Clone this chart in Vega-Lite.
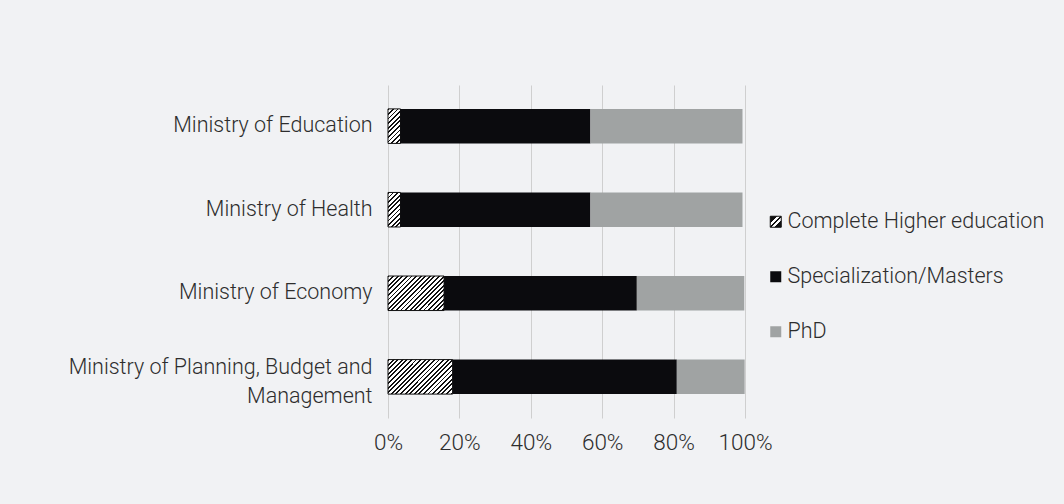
{
  "$schema": "https://vega.github.io/schema/vega-lite/v6.json",
  "width": 357,
  "height": 333,
  "autosize": {"type": "none"},
  "padding": {"left": 388, "top": 85, "right": 319, "bottom": 86},
  "background": "#f1f2f4",
  "config": {
    "view": {"stroke": null},
    "font": "Roboto, Liberation Sans, sans-serif"
  },
  "data": {
    "values": [
      {"ministry": "Ministry of Education", "level": "Complete Higher education", "value": 0.035},
      {"ministry": "Ministry of Education", "level": "Specialization/Masters", "value": 0.532},
      {"ministry": "Ministry of Education", "level": "PhD", "value": 0.426},
      {"ministry": "Ministry of Health", "level": "Complete Higher education", "value": 0.035},
      {"ministry": "Ministry of Health", "level": "Specialization/Masters", "value": 0.532},
      {"ministry": "Ministry of Health", "level": "PhD", "value": 0.426},
      {"ministry": "Ministry of Economy", "level": "Complete Higher education", "value": 0.157},
      {"ministry": "Ministry of Economy", "level": "Specialization/Masters", "value": 0.540},
      {"ministry": "Ministry of Economy", "level": "PhD", "value": 0.301},
      {"ministry": "Ministry of Planning, Budget and Management", "level": "Complete Higher education", "value": 0.181},
      {"ministry": "Ministry of Planning, Budget and Management", "level": "Specialization/Masters", "value": 0.628},
      {"ministry": "Ministry of Planning, Budget and Management", "level": "PhD", "value": 0.190}
    ]
  },
  "transform": [
    {"calculate": "indexof(['Complete Higher education','Specialization/Masters','PhD'], datum.level)", "as": "rank"}
  ],
  "mark": {"type": "bar", "strokeWidth": 1},
  "encoding": {
    "y": {
      "field": "ministry", "type": "nominal", "sort": null, "title": null,
      "scale": {"paddingInner": 0.587, "paddingOuter": 0.286},
      "axis": {
        "domain": false, "ticks": false, "labelPadding": 16, "labelFontSize": 21.5, "labelFontWeight": 300,
        "labelColor": "#2d2d2d", "labelLimit": 400, "labelLineHeight": 29,
        "labelExpr": "datum.value === 'Ministry of Planning, Budget and Management' ? ['Ministry of Planning, Budget and', 'Management'] : datum.value",
        "labelOffset": {"condition": {"test": "datum.value === 'Ministry of Planning, Budget and Management'", "value": -9}, "value": 0}
      }
    },
    "x": {
      "field": "value", "type": "quantitative", "stack": "zero", "title": null,
      "scale": {"domain": [0, 1], "nice": false},
      "axis": {
        "format": ".0%", "values": [0, 0.2, 0.4, 0.6, 0.8, 1], "domain": false, "ticks": false,
        "grid": true, "gridColor": "#cfcfcf", "gridWidth": 1, "labelPadding": 13,
        "labelFontSize": 22.5, "labelFontWeight": 300, "labelColor": "#2d2d2d", "labelFlush": false
      }
    },
    "order": {"field": "rank", "type": "quantitative"},
    "stroke": {
      "field": "level", "type": "nominal",
      "scale": {"domain": ["Complete Higher education", "Specialization/Masters", "PhD"], "range": ["#111111", "transparent", "transparent"]},
      "legend": {
        "title": null, "orient": "none", "legendX": 377, "legendY": 126,
        "symbolType": "square", "symbolSize": 121, "symbolStrokeWidth": 1,
        "labelFontSize": 21.5, "labelFontWeight": 300, "labelColor": "#2d2d2d", "labelLimit": 400,
        "labelOffset": 1, "rowPadding": 32
      }
    },
    "fill": {
      "condition": [
        {"test": "datum.level === 'Complete Higher education' && datum.ministry === 'Ministry of Economy'",
         "value": {"gradient": "linear", "x1": 0, "y1": 0, "x2": 1.4874, "y2": 0.9147, "stops": [
{"offset":0,"color":"#111"},{"offset":0.016,"color":"#111"},{"offset":0.016,"color":"#fff"},{"offset":0.04,"color":"#fff"},
{"offset":0.04,"color":"#111"},{"offset":0.056,"color":"#111"},{"offset":0.056,"color":"#fff"},{"offset":0.08,"color":"#fff"},
{"offset":0.08,"color":"#111"},{"offset":0.096,"color":"#111"},{"offset":0.096,"color":"#fff"},{"offset":0.12,"color":"#fff"},
{"offset":0.12,"color":"#111"},{"offset":0.136,"color":"#111"},{"offset":0.136,"color":"#fff"},{"offset":0.16,"color":"#fff"},
{"offset":0.16,"color":"#111"},{"offset":0.176,"color":"#111"},{"offset":0.176,"color":"#fff"},{"offset":0.2,"color":"#fff"},
{"offset":0.2,"color":"#111"},{"offset":0.216,"color":"#111"},{"offset":0.216,"color":"#fff"},{"offset":0.24,"color":"#fff"},
{"offset":0.24,"color":"#111"},{"offset":0.256,"color":"#111"},{"offset":0.256,"color":"#fff"},{"offset":0.28,"color":"#fff"},
{"offset":0.28,"color":"#111"},{"offset":0.296,"color":"#111"},{"offset":0.296,"color":"#fff"},{"offset":0.32,"color":"#fff"},
{"offset":0.32,"color":"#111"},{"offset":0.336,"color":"#111"},{"offset":0.336,"color":"#fff"},{"offset":0.36,"color":"#fff"},
{"offset":0.36,"color":"#111"},{"offset":0.376,"color":"#111"},{"offset":0.376,"color":"#fff"},{"offset":0.4,"color":"#fff"},
{"offset":0.4,"color":"#111"},{"offset":0.416,"color":"#111"},{"offset":0.416,"color":"#fff"},{"offset":0.44,"color":"#fff"},
{"offset":0.44,"color":"#111"},{"offset":0.456,"color":"#111"},{"offset":0.456,"color":"#fff"},{"offset":0.48,"color":"#fff"},
{"offset":0.48,"color":"#111"},{"offset":0.496,"color":"#111"},{"offset":0.496,"color":"#fff"},{"offset":0.52,"color":"#fff"},
{"offset":0.52,"color":"#111"},{"offset":0.536,"color":"#111"},{"offset":0.536,"color":"#fff"},{"offset":0.56,"color":"#fff"},
{"offset":0.56,"color":"#111"},{"offset":0.576,"color":"#111"},{"offset":0.576,"color":"#fff"},{"offset":0.6,"color":"#fff"},
{"offset":0.6,"color":"#111"},{"offset":0.616,"color":"#111"},{"offset":0.616,"color":"#fff"},{"offset":0.64,"color":"#fff"},
{"offset":0.64,"color":"#111"},{"offset":0.656,"color":"#111"},{"offset":0.656,"color":"#fff"},{"offset":0.68,"color":"#fff"},
{"offset":0.68,"color":"#111"},{"offset":0.696,"color":"#111"},{"offset":0.696,"color":"#fff"},{"offset":0.72,"color":"#fff"},
{"offset":0.72,"color":"#111"},{"offset":0.736,"color":"#111"},{"offset":0.736,"color":"#fff"},{"offset":0.76,"color":"#fff"},
{"offset":0.76,"color":"#111"},{"offset":0.776,"color":"#111"},{"offset":0.776,"color":"#fff"},{"offset":0.8,"color":"#fff"},
{"offset":0.8,"color":"#111"},{"offset":0.816,"color":"#111"},{"offset":0.816,"color":"#fff"},{"offset":0.84,"color":"#fff"},
{"offset":0.84,"color":"#111"},{"offset":0.856,"color":"#111"},{"offset":0.856,"color":"#fff"},{"offset":0.88,"color":"#fff"}
         ]}},
        {"test": "datum.level === 'Complete Higher education' && datum.ministry === 'Ministry of Planning, Budget and Management'",
         "value": {"gradient": "linear", "x1": 0, "y1": 0, "x2": 1.384, "y2": 0.738, "stops": [
{"offset":0,"color":"#111"},{"offset":0.016,"color":"#111"},{"offset":0.016,"color":"#fff"},{"offset":0.04,"color":"#fff"},
{"offset":0.04,"color":"#111"},{"offset":0.056,"color":"#111"},{"offset":0.056,"color":"#fff"},{"offset":0.08,"color":"#fff"},
{"offset":0.08,"color":"#111"},{"offset":0.096,"color":"#111"},{"offset":0.096,"color":"#fff"},{"offset":0.12,"color":"#fff"},
{"offset":0.12,"color":"#111"},{"offset":0.136,"color":"#111"},{"offset":0.136,"color":"#fff"},{"offset":0.16,"color":"#fff"},
{"offset":0.16,"color":"#111"},{"offset":0.176,"color":"#111"},{"offset":0.176,"color":"#fff"},{"offset":0.2,"color":"#fff"},
{"offset":0.2,"color":"#111"},{"offset":0.216,"color":"#111"},{"offset":0.216,"color":"#fff"},{"offset":0.24,"color":"#fff"},
{"offset":0.24,"color":"#111"},{"offset":0.256,"color":"#111"},{"offset":0.256,"color":"#fff"},{"offset":0.28,"color":"#fff"},
{"offset":0.28,"color":"#111"},{"offset":0.296,"color":"#111"},{"offset":0.296,"color":"#fff"},{"offset":0.32,"color":"#fff"},
{"offset":0.32,"color":"#111"},{"offset":0.336,"color":"#111"},{"offset":0.336,"color":"#fff"},{"offset":0.36,"color":"#fff"},
{"offset":0.36,"color":"#111"},{"offset":0.376,"color":"#111"},{"offset":0.376,"color":"#fff"},{"offset":0.4,"color":"#fff"},
{"offset":0.4,"color":"#111"},{"offset":0.416,"color":"#111"},{"offset":0.416,"color":"#fff"},{"offset":0.44,"color":"#fff"},
{"offset":0.44,"color":"#111"},{"offset":0.456,"color":"#111"},{"offset":0.456,"color":"#fff"},{"offset":0.48,"color":"#fff"},
{"offset":0.48,"color":"#111"},{"offset":0.496,"color":"#111"},{"offset":0.496,"color":"#fff"},{"offset":0.52,"color":"#fff"},
{"offset":0.52,"color":"#111"},{"offset":0.536,"color":"#111"},{"offset":0.536,"color":"#fff"},{"offset":0.56,"color":"#fff"},
{"offset":0.56,"color":"#111"},{"offset":0.576,"color":"#111"},{"offset":0.576,"color":"#fff"},{"offset":0.6,"color":"#fff"},
{"offset":0.6,"color":"#111"},{"offset":0.616,"color":"#111"},{"offset":0.616,"color":"#fff"},{"offset":0.64,"color":"#fff"},
{"offset":0.64,"color":"#111"},{"offset":0.656,"color":"#111"},{"offset":0.656,"color":"#fff"},{"offset":0.68,"color":"#fff"},
{"offset":0.68,"color":"#111"},{"offset":0.696,"color":"#111"},{"offset":0.696,"color":"#fff"},{"offset":0.72,"color":"#fff"},
{"offset":0.72,"color":"#111"},{"offset":0.736,"color":"#111"},{"offset":0.736,"color":"#fff"},{"offset":0.76,"color":"#fff"},
{"offset":0.76,"color":"#111"},{"offset":0.776,"color":"#111"},{"offset":0.776,"color":"#fff"},{"offset":0.8,"color":"#fff"},
{"offset":0.8,"color":"#111"},{"offset":0.816,"color":"#111"},{"offset":0.816,"color":"#fff"},{"offset":0.84,"color":"#fff"},
{"offset":0.84,"color":"#111"},{"offset":0.856,"color":"#111"},{"offset":0.856,"color":"#fff"},{"offset":0.88,"color":"#fff"}
         ]}},
        {"test": "datum.level === 'Complete Higher education'",
         "value": {"gradient": "linear", "x1": 0, "y1": 0, "x2": 1.0676, "y2": 2.9466, "stops": [
{"offset":0,"color":"#111"},{"offset":0.016,"color":"#111"},{"offset":0.016,"color":"#fff"},{"offset":0.04,"color":"#fff"},
{"offset":0.04,"color":"#111"},{"offset":0.056,"color":"#111"},{"offset":0.056,"color":"#fff"},{"offset":0.08,"color":"#fff"},
{"offset":0.08,"color":"#111"},{"offset":0.096,"color":"#111"},{"offset":0.096,"color":"#fff"},{"offset":0.12,"color":"#fff"},
{"offset":0.12,"color":"#111"},{"offset":0.136,"color":"#111"},{"offset":0.136,"color":"#fff"},{"offset":0.16,"color":"#fff"},
{"offset":0.16,"color":"#111"},{"offset":0.176,"color":"#111"},{"offset":0.176,"color":"#fff"},{"offset":0.2,"color":"#fff"},
{"offset":0.2,"color":"#111"},{"offset":0.216,"color":"#111"},{"offset":0.216,"color":"#fff"},{"offset":0.24,"color":"#fff"},
{"offset":0.24,"color":"#111"},{"offset":0.256,"color":"#111"},{"offset":0.256,"color":"#fff"},{"offset":0.28,"color":"#fff"},
{"offset":0.28,"color":"#111"},{"offset":0.296,"color":"#111"},{"offset":0.296,"color":"#fff"},{"offset":0.32,"color":"#fff"},
{"offset":0.32,"color":"#111"},{"offset":0.336,"color":"#111"},{"offset":0.336,"color":"#fff"},{"offset":0.36,"color":"#fff"},
{"offset":0.36,"color":"#111"},{"offset":0.376,"color":"#111"},{"offset":0.376,"color":"#fff"},{"offset":0.4,"color":"#fff"},
{"offset":0.4,"color":"#111"},{"offset":0.416,"color":"#111"},{"offset":0.416,"color":"#fff"},{"offset":0.44,"color":"#fff"}
         ]}}
      ],
      "field": "level", "type": "nominal",
      "scale": {"domain": ["Complete Higher education", "Specialization/Masters", "PhD"], "range": [
        {"expr": "{gradient: 'linear', x1: 0, y1: 0, x2: 1, y2: 1, stops: [{offset: 0, color: '#111'}, {offset: 0.3, color: '#111'}, {offset: 0.3, color: '#fff'}, {offset: 0.44, color: '#fff'}, {offset: 0.44, color: '#111'}, {offset: 0.56, color: '#111'}, {offset: 0.56, color: '#fff'}, {offset: 0.7, color: '#fff'}, {offset: 0.7, color: '#111'}, {offset: 1, color: '#111'}]}"},
        "#0b0b0e", "#a0a3a3"]},
      "legend": {
        "title": null, "orient": "none", "legendX": 377, "legendY": 126,
        "symbolType": "square", "symbolSize": 121, "symbolStrokeWidth": 1,
        "labelFontSize": 21.5, "labelFontWeight": 300, "labelColor": "#2d2d2d", "labelLimit": 400,
        "labelOffset": 1, "rowPadding": 32
      }
    }
  }
}
